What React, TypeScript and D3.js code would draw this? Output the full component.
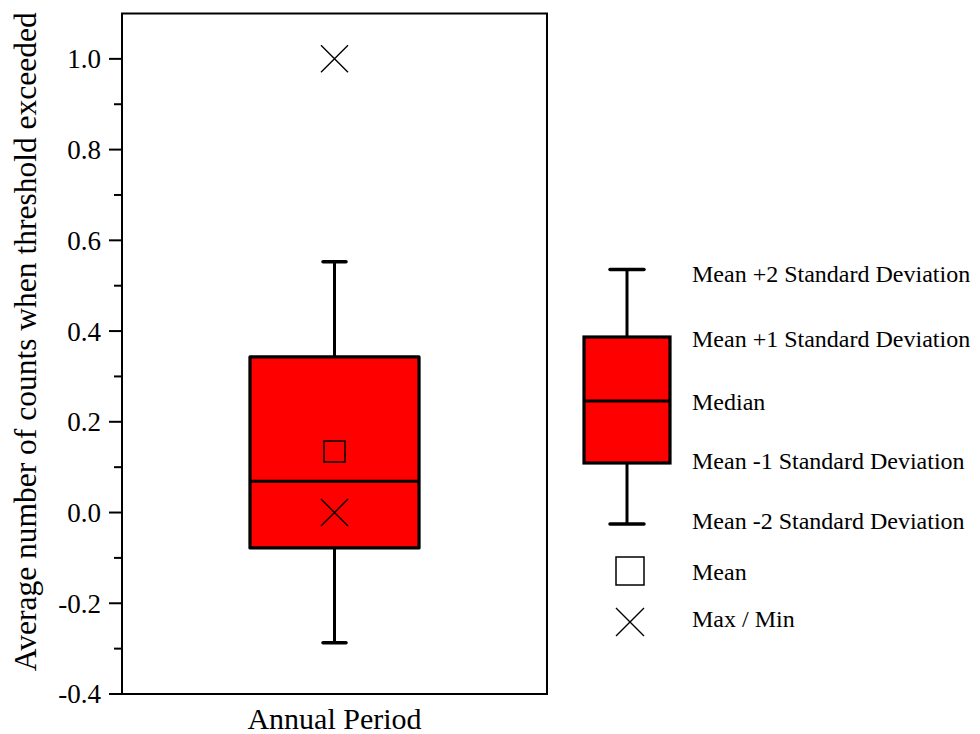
import React from "react";
import * as d3 from "d3";

// ---- data ----
const categories = ["Annual Period"];
const meanValues = [0.1345];
const medianValues = [0.069];
const plus2SD = [0.553];
const plus1SD = [0.343];
const minus1SD = [-0.078];
const minus2SD = [-0.287];
const maxValues = [1.0];
const minValues = [0.0];

const majorTicks = [-0.4, -0.2, 0.0, 0.2, 0.4, 0.6, 0.8, 1.0];
const minorTicks = [-0.3, -0.1, 0.1, 0.3, 0.5, 0.7, 0.9];

const legendLabels = [
  "Mean +2 Standard Deviation",
  "Mean +1 Standard Deviation",
  "Median",
  "Mean -1 Standard Deviation",
  "Mean -2 Standard Deviation",
  "Mean",
  "Max / Min",
];

const W = 980;
const H = 734;
const FONT = '"Liberation Serif", "Times New Roman", Tinos, serif';
const txt = { fontFamily: FONT };

export default function App() {
  const left = 122;
  const right = 547;
  const top = 13.5;
  const bottom = 694;

  const y = d3.scaleLinear().domain([-0.4, 1.1]).range([bottom, top]);
  const x = d3
    .scaleBand<string>()
    .domain(categories)
    .range([left, right])
    .paddingInner(0)
    .paddingOuter(0.757);

  const capHalf = 11.5;
  const crossHalf = 13.5;
  const sqHalf = 10.5;

  const crossPath = (cx: number, cy: number, h: number) =>
    `M${cx - h},${cy - h}L${cx + h},${cy + h}M${cx - h},${cy + h}L${cx + h},${cy - h}`;

  // legend geometry (schematic)
  const lgCx = 627;
  const lgBoxL = 584;
  const lgBoxR = 670;
  const lgCapTop = 269.5;
  const lgBoxTop = 337;
  const lgMed = 401;
  const lgBoxBot = 463;
  const lgCapBot = 524;
  const lgTextX = 692;
  const lgBaselines = [281.5, 347, 409.5, 468.5, 528.5, 580, 627];

  return (
    <svg
      width={W}
      height={H}
      style={{ position: "absolute", left: 0, top: 0, background: "#fff" }}
    >
      <rect x={0} y={0} width={W} height={H} fill="#fff" />

      {/* boxes */}
      {categories.map((c, i) => {
        const x0 = x(c)!;
        const bw = x.bandwidth();
        const cx = x0 + bw / 2;
        return (
          <g key={c}>
            <line x1={cx} x2={cx} y1={y(plus2SD[i])} y2={y(plus1SD[i])} stroke="#000" strokeWidth={3} />
            <line x1={cx} x2={cx} y1={y(minus1SD[i])} y2={y(minus2SD[i])} stroke="#000" strokeWidth={3} />
            <line x1={cx - capHalf} x2={cx + capHalf} y1={y(plus2SD[i])} y2={y(plus2SD[i])} stroke="#000" strokeWidth={3.5} strokeLinecap="round" />
            <line x1={cx - capHalf} x2={cx + capHalf} y1={y(minus2SD[i])} y2={y(minus2SD[i])} stroke="#000" strokeWidth={3.5} strokeLinecap="round" />
            <rect
              x={x0}
              y={y(plus1SD[i])}
              width={bw}
              height={y(minus1SD[i]) - y(plus1SD[i])}
              fill="#ff0000"
              stroke="#000"
              strokeWidth={3.2}
              strokeLinejoin="round"
            />
            <line x1={x0} x2={x0 + bw + 1} y1={y(medianValues[i])} y2={y(medianValues[i])} stroke="#000" strokeWidth={3} />
            <rect
              x={cx - sqHalf}
              y={y(meanValues[i]) - sqHalf}
              width={sqHalf * 2}
              height={sqHalf * 2}
              fill="none"
              stroke="#000"
              strokeWidth={1.5}
            />
            <path d={crossPath(cx, y(maxValues[i]), crossHalf)} stroke="#000" strokeWidth={1.4} fill="none" />
            <path d={crossPath(cx, y(minValues[i]), crossHalf)} stroke="#000" strokeWidth={1.4} fill="none" />
          </g>
        );
      })}

      {/* frame */}
      <rect x={left} y={top} width={right - left} height={bottom - top} fill="none" stroke="#000" strokeWidth={2} />

      {/* y ticks */}
      {majorTicks.map((t) => (
        <g key={"M" + t}>
          <line x1={left - 13} x2={left} y1={y(t)} y2={y(t)} stroke="#000" strokeWidth={2} />
          <text x={101} y={y(t)} dy="0.35em" textAnchor="end" fontSize={27} fill="#000" fontFamily={FONT} style={txt}>
            {t.toFixed(1) === "-0.0" ? "0.0" : t.toFixed(1)}
          </text>
        </g>
      ))}
      {minorTicks.map((t) => (
        <line key={"m" + t} x1={left - 8} x2={left} y1={y(t)} y2={y(t)} stroke="#000" strokeWidth={2} />
      ))}

      {/* axis titles */}
      <text
        transform={`translate(36,${(top + bottom) / 2 - 12}) rotate(-90)`}
        textAnchor="middle"
        fontSize={31.5}
        fill="#000"
        fontFamily={FONT}
        style={txt}
      >
        Average number of counts when threshold exceeded
      </text>
      <text x={(left + right) / 2} y={729} textAnchor="middle" fontSize={30} fill="#000" fontFamily={FONT} style={txt}>
        {categories[0]}
      </text>

      {/* legend */}
      <g>
        <line x1={lgCx} x2={lgCx} y1={lgCapTop} y2={lgBoxTop} stroke="#000" strokeWidth={3} />
        <line x1={lgCx} x2={lgCx} y1={lgBoxBot} y2={lgCapBot} stroke="#000" strokeWidth={3} />
        <line x1={lgCx - 17} x2={lgCx + 17} y1={lgCapTop} y2={lgCapTop} stroke="#000" strokeWidth={3.5} strokeLinecap="round" />
        <line x1={lgCx - 17} x2={lgCx + 17} y1={lgCapBot} y2={lgCapBot} stroke="#000" strokeWidth={3.5} strokeLinecap="round" />
        <rect x={lgBoxL} y={lgBoxTop} width={lgBoxR - lgBoxL} height={lgBoxBot - lgBoxTop} fill="#ff0000" stroke="#000" strokeWidth={3.2} />
        <line x1={lgBoxL} x2={lgBoxR} y1={lgMed} y2={lgMed} stroke="#000" strokeWidth={3} />
        <rect x={616} y={557} width={28} height={28} fill="none" stroke="#000" strokeWidth={1.5} />
        <path d={crossPath(630, 622, 14)} stroke="#000" strokeWidth={1.4} fill="none" />
        {legendLabels.map((l, i) => (
          <text key={l} x={lgTextX} y={lgBaselines[i]} fontSize={24} fill="#000" fontFamily={FONT} style={txt}>
            {l}
          </text>
        ))}
      </g>
    </svg>
  );
}
